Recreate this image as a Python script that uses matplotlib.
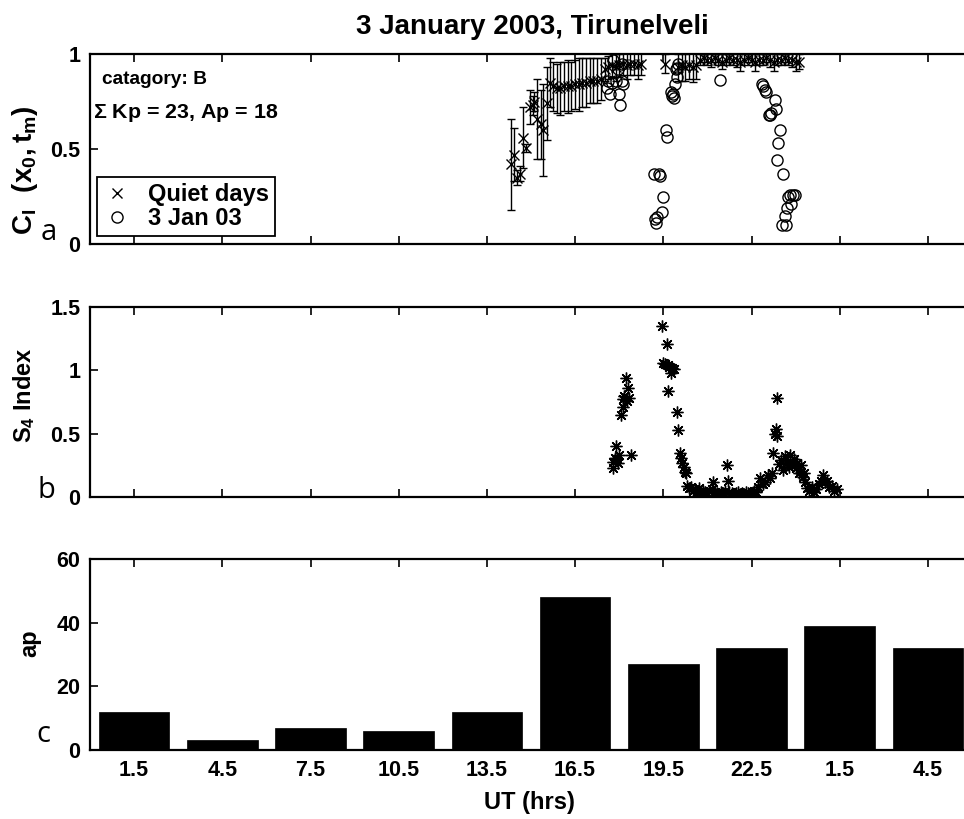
import matplotlib
matplotlib.use("Agg")
import matplotlib.pyplot as plt
from matplotlib.lines import Line2D

plt.rcParams["font.family"] = ["Liberation Sans", "DejaVu Sans"]
plt.rcParams["font.weight"] = "bold"
plt.rcParams["mathtext.fontset"] = "custom"
plt.rcParams["mathtext.rm"] = "Liberation Sans"
plt.rcParams["mathtext.bf"] = "Liberation Sans:bold"
plt.rcParams["mathtext.it"] = "Liberation Sans:italic"

# ---------------- data ----------------
# UT bin centres (hours since 00 UT, 3 Jan 2003) and their labels
ut_ticks = [1.5, 4.5, 7.5, 10.5, 13.5, 16.5, 19.5, 22.5, 25.5, 28.5]
ut_tick_labels = ["1.5", "4.5", "7.5", "10.5", "13.5", "16.5", "19.5", "22.5", "1.5", "4.5"]

# 3-hourly ap index
ap_values = [12, 3, 7, 6, 12, 48, 27, 32, 39, 32]

# Quiet-day mean correlation coefficient and its spread
qd_time = [14.32, 14.43, 14.51, 14.63, 14.72, 14.83, 14.97, 15.06, 15.11, 15.21, 15.34, 15.42, 15.53, 15.65,
           15.75, 15.875, 16.0, 16.125, 16.25, 16.375, 16.5, 16.625, 16.75, 16.875, 17.0, 17.125, 17.25, 17.375,
           17.5, 17.625, 17.75, 17.875, 18.0, 18.125, 18.25, 18.375, 18.5, 18.625, 18.75,
           19.56,
           20.0, 20.125, 20.25, 20.375, 20.5, 20.625,
           20.75, 20.875, 21.0, 21.125, 21.25, 21.375, 21.5, 21.625, 21.75, 21.875, 22.0, 22.125, 22.25, 22.375,
           22.5, 22.625, 22.75, 22.875, 23.0, 23.125, 23.25, 23.375, 23.5, 23.625, 23.75, 23.875, 24.0, 24.125]
qd_mean = [0.42, 0.47, 0.35, 0.37, 0.56, 0.505, 0.72, 0.73, 0.75, 0.66, 0.63, 0.60, 0.74, 0.85,
           0.83, 0.82, 0.82, 0.83, 0.83, 0.83, 0.84, 0.84, 0.85, 0.85, 0.86, 0.86, 0.86, 0.87,
           0.92, 0.93, 0.94, 0.93, 0.94, 0.95, 0.94, 0.95, 0.95, 0.94, 0.95,
           0.95,
           0.93, 0.94, 0.93, 0.94, 0.93, 0.94,
           0.97, 0.98, 0.97, 0.97, 0.98, 0.97, 0.96, 0.97, 0.98, 0.97, 0.97, 0.96, 0.97, 0.98,
           0.97, 0.96, 0.97, 0.97, 0.98, 0.97, 0.96, 0.97, 0.97, 0.98, 0.97, 0.97, 0.96, 0.96]
qd_err = [0.24, 0.14, 0.04, 0.04, 0.16, 0.02, 0.09, 0.05, 0.05, 0.21, 0.18, 0.24, 0.19, 0.13,
          0.13, 0.13, 0.14, 0.13, 0.14, 0.13, 0.13, 0.14, 0.13, 0.13, 0.12, 0.12, 0.12, 0.11,
          0.06, 0.06, 0.06, 0.07, 0.06, 0.06, 0.07, 0.06, 0.06, 0.07, 0.06,
          0.05,
          0.07, 0.08, 0.07, 0.07, 0.08, 0.07,
          0.03, 0.02, 0.03, 0.04, 0.02, 0.03, 0.04, 0.03, 0.02, 0.03, 0.04, 0.05, 0.03, 0.02,
          0.03, 0.05, 0.03, 0.03, 0.02, 0.04, 0.05, 0.03, 0.03, 0.02, 0.03, 0.04, 0.05, 0.04]

# Correlation coefficient on 3 Jan 2003
jan3_time = [17.57, 17.62, 17.69, 17.74, 17.80, 17.89, 17.95, 18.00, 18.03, 18.08, 18.10, 18.14,
             19.18, 19.22, 19.25, 19.30, 19.36, 19.40, 19.44, 19.50, 19.58, 19.61, 19.76, 19.79, 19.82,
             19.85, 19.90, 19.95, 19.92, 19.98, 20.0,
             21.43,
             22.85, 22.90, 22.95, 23.00, 23.10, 23.13, 23.16, 23.30, 23.33, 23.36, 23.41, 23.47, 23.53,
             23.58, 23.64, 23.68, 23.72, 23.75, 23.80, 23.86, 23.90, 23.98]
jan3_ci = [0.82, 0.86, 0.79, 0.85, 0.97, 0.86, 0.92, 0.79, 0.73, 0.86, 0.95, 0.84,
           0.37, 0.13, 0.11, 0.14, 0.37, 0.36, 0.17, 0.25, 0.60, 0.565, 0.80, 0.78, 0.79,
           0.77, 0.84, 0.88, 0.92, 0.925, 0.95,
           0.863,
           0.84, 0.83, 0.81, 0.80, 0.68, 0.68, 0.69, 0.76, 0.71, 0.44, 0.53, 0.60, 0.10,
           0.37, 0.145, 0.10, 0.19, 0.25, 0.26, 0.21, 0.26, 0.26]

# Amplitude scintillation index S4
s4_time = [17.78, 17.79, 17.86, 17.89, 17.93, 17.96, 17.99,
           18.05, 18.12, 18.13, 18.18, 18.23, 18.26, 18.31, 18.33, 18.39,
           19.44, 19.50, 19.56, 19.61, 19.66, 19.67, 19.71, 19.75, 19.80, 19.85,
           19.95, 20.01, 20.07, 20.10, 20.14, 20.19, 20.24, 20.27,
           20.30, 20.37, 20.44, 20.51, 20.58, 20.65, 20.72, 20.79, 20.86, 20.93,
           21.00, 21.07, 21.14, 21.19, 21.26, 21.33, 21.40, 21.47, 21.54, 21.61,
           21.68, 21.70, 21.75, 21.82, 21.89, 21.96, 22.03, 22.10, 22.17, 22.24,
           22.31, 22.38, 22.45, 22.52, 22.59, 22.66, 22.73,
           22.79, 22.88, 22.96, 23.05, 23.12, 23.19, 23.22, 23.30, 23.33, 23.36, 23.38,
           23.45, 23.52, 23.58, 23.63, 23.70, 23.76, 23.82, 23.88, 23.94, 24.00, 24.06, 24.12, 24.18, 24.24, 24.28,
           24.33, 24.40, 24.47, 24.55, 24.62, 24.70, 24.78, 24.86, 24.94, 25.00, 25.06, 25.14, 25.23, 25.31, 25.40]
s4_value = [0.23, 0.28, 0.31, 0.40, 0.30, 0.27, 0.33,
            0.65, 0.71, 0.77, 0.80, 0.94, 0.76, 0.86, 0.78, 0.33,
            1.35, 1.06, 1.05, 1.21, 1.04, 0.84, 1.03, 0.98, 1.02, 1.01,
            0.67, 0.53, 0.35, 0.31, 0.27, 0.24, 0.20, 0.19,
            0.09, 0.07, 0.08, 0.05, 0.06, 0.04, 0.07, 0.03, 0.05, 0.04,
            0.03, 0.05, 0.06, 0.12, 0.04, 0.03, 0.02, 0.04, 0.03, 0.05,
            0.25, 0.13, 0.04, 0.03, 0.02, 0.03, 0.04, 0.02, 0.03, 0.02,
            0.04, 0.03, 0.02, 0.03, 0.05, 0.04, 0.08,
            0.15, 0.10, 0.12, 0.17, 0.15, 0.19, 0.35, 0.50, 0.54, 0.48, 0.78,
            0.26, 0.29, 0.21, 0.32, 0.27, 0.24, 0.33, 0.27, 0.30, 0.23, 0.27, 0.19, 0.25, 0.16, 0.19,
            0.12, 0.07, 0.05, 0.08, 0.04, 0.06, 0.10, 0.13, 0.17, 0.12, 0.13, 0.08, 0.09, 0.05, 0.06]

# ---------------- figure ----------------
W_PX, H_PX = 964, 819
fig = plt.figure(figsize=(W_PX / 100, H_PX / 100), dpi=100)


def frac_box(left, top, right, bottom):
    return [left / W_PX, 1 - bottom / H_PX, (right - left) / W_PX, (bottom - top) / H_PX]


ax_a = fig.add_axes(frac_box(90, 54, 972, 244))
ax_b = fig.add_axes(frac_box(90, 307, 972, 497))
ax_c = fig.add_axes(frac_box(90, 559, 972, 750))

TICK_FS = 15.5
for ax in (ax_a, ax_b, ax_c):
    ax.set_xlim(0, 30)
    ax.set_xticks(ut_ticks)
    ax.tick_params(direction="in", length=6, width=1.2, top=True, right=True,
                   labelsize=TICK_FS, pad=7)
    for sp in ax.spines.values():
        sp.set_linewidth(1.6)

ax_a.set_xticklabels([])
ax_b.set_xticklabels([])
ax_c.set_xticklabels(ut_tick_labels)

# (a) correlation coefficient
ax_a.errorbar(qd_time, qd_mean, yerr=qd_err, fmt="x", color="k", ms=6.5, mew=1.0,
              elinewidth=1.0, capsize=3, capthick=1.0)
ax_a.plot(jan3_time, jan3_ci, "o", mfc="none", mec="k", ms=8, mew=1.0)
ax_a.set_ylim(0, 1)
ax_a.set_yticks([0, 0.5, 1])
ax_a.set_yticklabels(["0", "0.5", "1"])

handles = [Line2D([], [], ls="none", marker="x", color="k", ms=7, mew=1.0),
           Line2D([], [], ls="none", marker="o", mfc="none", mec="k", ms=8, mew=1.0)]
leg = ax_a.legend(handles, ["Quiet days", "3 Jan 03"], loc="lower left",
                  bbox_to_anchor=(0.008, 0.042), borderaxespad=0, fancybox=False,
                  edgecolor="k", framealpha=1, prop={"weight": "bold", "size": 17},
                  handlelength=1.2, handletextpad=0.7, borderpad=0.25, labelspacing=0.05)
leg.get_frame().set_linewidth(1.3)

ax_a.text(0.0136, 0.842, "catagory: B", transform=ax_a.transAxes, fontsize=13.8,
          fontweight="bold", ha="left", va="baseline")
ax_a.text(0.0034, 0.663, r"$\Sigma$ Kp = 23, Ap = 18", transform=ax_a.transAxes,
          fontsize=15.4, fontweight="bold", ha="left", va="baseline")

# (b) S4 index
ax_b.plot(s4_time, s4_value, ls="none", marker=(8, 2, 0), color="k", ms=8.5, mew=1.0)
ax_b.set_ylim(0, 1.5)
ax_b.set_yticks([0, 0.5, 1, 1.5])
ax_b.set_yticklabels(["0", "0.5", "1", "1.5"])

# (c) ap index
ax_c.bar(ut_ticks, ap_values, width=2.4, color="k", edgecolor="k", linewidth=0.5)
ax_c.set_ylim(0, 60)
ax_c.set_yticks([0, 20, 40, 60])

# axis labels and title
fig.text(532 / W_PX, 1 - 27 / H_PX, "3 January 2003, Tirunelveli", fontsize=20,
         fontweight="bold", ha="center", va="center")
fig.text(529 / W_PX, 1 - 803 / H_PX, "UT (hrs)", fontsize=17, fontweight="bold",
         ha="center", va="center")
fig.text(25 / W_PX, 1 - 170 / H_PX, r"$\mathbf{C_I\ \ (x_0,t_m)}$", fontsize=20,
         rotation=90, ha="center", va="center")
fig.text(24 / W_PX, 1 - 395 / H_PX, r"$\mathbf{S_4}$ Index", fontsize=17,
         fontweight="bold", rotation=90, ha="center", va="center")
fig.text(30 / W_PX, 1 - 643 / H_PX, "ap", fontsize=17, fontweight="bold",
         rotation=90, ha="center", va="center")

# panel letters
for letter, (px, py) in zip("abc", [(49, 233), (46, 491), (43, 734)]):
    fig.text(px / W_PX, 1 - py / H_PX, letter, fontsize=21, fontweight="normal",
             family=["Open Sans", "DejaVu Sans"], ha="center", va="center")

fig.savefig("out.png", dpi=100)
